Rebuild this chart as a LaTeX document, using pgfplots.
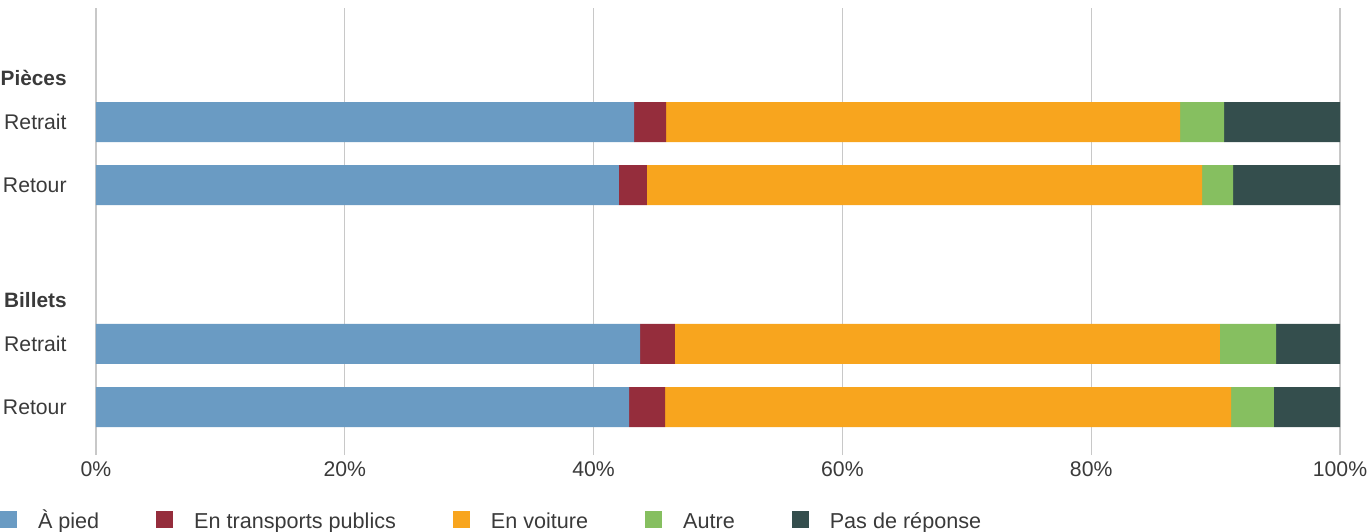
\documentclass[border=0pt]{standalone}
\usepackage{pgfplots}
\pgfplotsset{compat=1.18}
\usepackage{fontspec}
\setmainfont{Liberation Sans}
\definecolor{cBlue}{HTML}{6A9BC3}
\definecolor{cRed}{HTML}{952D3C}
\definecolor{cOrange}{HTML}{F8A51E}
\definecolor{cGreen}{HTML}{86BF60}
\definecolor{cDark}{HTML}{344E4D}
\definecolor{txt}{HTML}{3A3A3A}
\definecolor{gridc}{HTML}{C8C8C8}
\begin{document}
\begin{tikzpicture}
\begin{axis}[
  at={(0,0)}, anchor=south west,
  scale only axis, width=622pt, height=223.5pt,
  xbar stacked, bar width=20pt,
  xmin=0, xmax=100, ymin=-0.762, ymax=6.333,
  xtick={0,20,40,60,80,100},
  xticklabel={\pgfmathprintnumber{\tick}\%},
  /pgf/number format/assume math mode=true,
  ytick={0,1,3.52,4.52},
  yticklabels={Retour,Retrait,Retour,Retrait},
  axis line style={draw=none},
  major tick length=0pt,
  xmajorgrids, grid style={draw=gridc, line width=0.6pt},
  tick label style={font=\fontsize{10.6}{12}\selectfont, text=txt},
  yticklabel style={inner sep=0pt, anchor=east, xshift=-14.5pt},
  xticklabel style={inner sep=0pt, anchor=north, yshift=-3pt},
  legend style={draw=none, fill=none, inner sep=0pt, outer sep=0pt,
    at={(axis description cs:0,0)}, anchor=west, xshift=-48pt, yshift=-33.5pt,
    font=\fontsize{10.8}{12}\selectfont, text=txt,
    /tikz/every even column/.append style={column sep=28.5pt},
    /tikz/every odd column/.append style={column sep=10.5pt},
    nodes={inner sep=0pt, text height=8pt, text depth=2.5pt}},
  legend columns=5,
  legend image code/.code={\fill[#1] (0pt,-2.75pt) rectangle (8.5pt,5.75pt);},
  clip=false,
]
\addplot[fill=cBlue, draw=none] coordinates {(43.25,4.52) (42.04,3.52) (43.73,1) (42.85,0)};
\addplot[fill=cRed, draw=none] coordinates {(2.57,4.52) (2.25,3.52) (2.81,1) (2.89,0)};
\addplot[fill=cOrange, draw=none] coordinates {(41.32,4.52) (44.62,3.52) (43.81,1) (45.50,0)};
\addplot[fill=cGreen, draw=none] coordinates {(3.54,4.52) (2.49,3.52) (4.51,1) (3.45,0)};
\addplot[fill=cDark, draw=none] coordinates {(9.32,4.52) (8.60,3.52) (5.14,1) (5.31,0)};
\legend{À pied, En transports publics, En voiture, Autre, Pas de réponse}
\node[anchor=east, inner sep=0pt, xshift=-14.5pt, text=txt, font=\fontsize{10.4}{12}\selectfont\bfseries] at (axis cs:0,5.222) {Pièces};
\node[anchor=east, inner sep=0pt, xshift=-14.5pt, text=txt, font=\fontsize{10.4}{12}\selectfont\bfseries] at (axis cs:0,1.698) {Billets};
\end{axis}
\pgfresetboundingbox
\useasboundingbox (-48pt,-38pt) rectangle (636.5pt,227.5pt);
\end{tikzpicture}
\end{document}
